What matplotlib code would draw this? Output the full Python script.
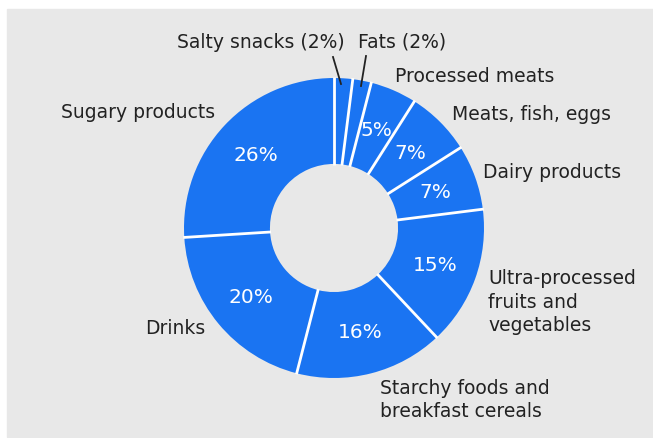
import matplotlib
matplotlib.use("Agg")
import matplotlib.pyplot as plt
import numpy as np

# data
categories = ["Salty snacks", "Fats", "Processed meats", "Meats, fish, eggs",
              "Dairy products", "Ultra-processed fruits and vegetables",
              "Starchy foods and breakfast cereals", "Drinks", "Sugary products"]
shares = [2, 2, 5, 7, 7, 15, 16, 20, 26]

W, H = 653, 439
blue = "#1a74f2"
bg = "#e8e8e8"
txt = "#222222"

fig = plt.figure(figsize=(W / 100, H / 100), dpi=100)
fig.patch.set_facecolor("white")
ax = fig.add_axes([0, 0, 1, 1])

# grey panel
ax.add_patch(plt.Rectangle((7, 1), W - 7, H - 11, color=bg, zorder=0))

cx, cy, R = 334, H - 229, 150
w_frac = 0.573

def pct(p):
    return f"{p:.0f}%" if p >= 4 else ""

wedges, _, autotexts = ax.pie(
    shares, center=(cx, cy), radius=R, startangle=90, counterclock=False,
    colors=[blue] * len(shares), autopct=pct, pctdistance=0.715,
    wedgeprops=dict(width=R * w_frac, linewidth=0),
    textprops=dict(color="white", fontsize=14.5), frame=True)

# white separators between slices
r_in = R * (1 - w_frac)
cum = np.cumsum([0] + shares)
for c in cum[:-1]:
    a = np.deg2rad(90 - 360 * c / sum(shares))
    ax.plot([cx + (r_in - 1) * np.cos(a), cx + (R + 1) * np.cos(a)],
            [cy + (r_in - 1) * np.sin(a), cy + (R + 1) * np.sin(a)],
            color="white", lw=2.0, solid_capstyle="butt", zorder=3)

ax.set_xlim(0, W)
ax.set_ylim(0, H)
ax.set_aspect("equal")
ax.axis("off")

fs = 13.5
def lab(x, y, s, ha="left"):
    ax.text(x, H - y, s, ha=ha, va="center", fontsize=fs, color=txt,
            linespacing=1.3)

lab(345, 42, "Salty snacks (2%)", ha="right")
lab(358, 42, "Fats (2%)")
lab(395, 76, "Processed meats")
lab(452, 115, "Meats, fish, eggs")
lab(483, 173, "Dairy products")
lab(488, 302, "Ultra-processed\nfruits and\nvegetables")
lab(380, 400, "Starchy foods and\nbreakfast cereals")
lab(205, 328, "Drinks", ha="right")
lab(215, 113, "Sugary products", ha="right")

# leader lines for the two small slices
ax.plot([333, 341], [H - 58, H - 85], color=txt, lw=1.3)
ax.plot([366, 361], [H - 57, H - 87], color=txt, lw=1.3)

fig.savefig("out.png", dpi=100)
